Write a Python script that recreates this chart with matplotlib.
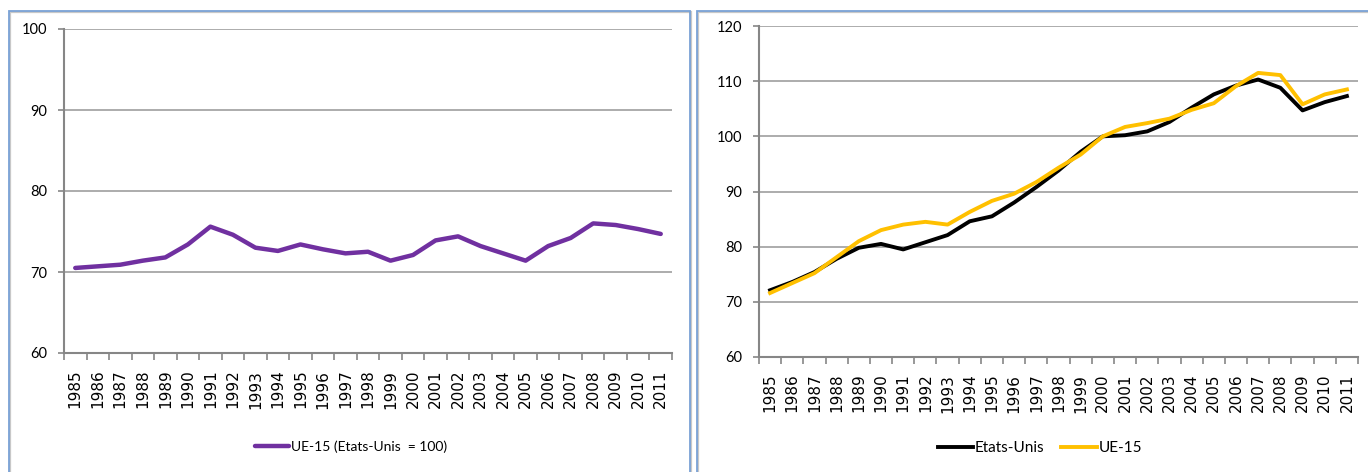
import numpy as np
import matplotlib
matplotlib.use("Agg")
from matplotlib import pyplot as plt
from matplotlib.patches import Rectangle

years = np.arange(1985, 2012)
year_labels = [str(y) for y in years]

# UE-15 relative to Etats-Unis (= 100)
ue15_rel = [70.5, 70.7, 70.9, 71.4, 71.8, 73.4, 75.6, 74.6, 73.0, 72.6,
            73.4, 72.8, 72.3, 72.5, 71.4, 72.1, 73.9, 74.4, 73.2, 72.3,
            71.4, 73.2, 74.2, 76.0, 75.8, 75.3, 74.7]

# index 2000 = 100
etats_unis = [72.1, 73.6, 75.4, 77.8, 79.8, 80.5, 79.5, 80.8, 82.1, 84.6,
              85.5, 88.0, 90.8, 93.8, 97.2, 100.0, 100.2, 100.9, 102.6, 105.2,
              107.6, 109.2, 110.3, 108.8, 104.7, 106.2, 107.3]
ue15 = [71.6, 73.4, 75.2, 78.1, 81.0, 83.0, 84.0, 84.5, 84.0, 86.3,
        88.3, 89.6, 91.7, 94.3, 96.7, 100.0, 101.7, 102.4, 103.2, 104.8,
        106.0, 109.1, 111.5, 111.1, 105.8, 107.6, 108.5]

W, H = 1368, 472
narrow = ['Lato', 'DejaVu Sans']
GRID = '#a6a6a6'
AXIS = '#868686'

fig = plt.figure(figsize=(W / 100, H / 100), dpi=100)


def px_axes(left, right, top, bottom):
    return fig.add_axes([left / W, 1 - bottom / H, (right - left) / W, (bottom - top) / H])


def frame(left, right, top, bottom):
    # panel border, drawn in figure pixels
    shadow = Rectangle((left / W + 1 / W, 1 - bottom / H - 1 / H), (right - left) / W, (bottom - top) / H,
                       transform=fig.transFigure, fill=False, edgecolor='#c8c8c8', lw=1.6)
    box = Rectangle((left / W, 1 - bottom / H), (right - left) / W, (bottom - top) / H,
                    transform=fig.transFigure, fill=False, edgecolor='#7aa2d6', lw=1.3)
    fig.patches.extend([shadow, box])


def style(ax, ylim, yticks):
    ax.set_xlim(-0.5, len(years) - 0.5)
    ax.set_ylim(*ylim)
    ax.set_yticks(yticks)
    ax.set_yticklabels([str(t) for t in yticks], family=narrow, fontsize=10.5)
    ax.set_xticks(np.arange(-0.5, len(years)), labels=[''] * (len(years) + 1))
    ax.set_xticks(np.arange(len(years)), labels=year_labels, minor=True,
                  family='DejaVu Sans', fontsize=11)
    ax.tick_params(axis='x', which='minor', length=0, pad=12, labelrotation=90)
    ax.tick_params(axis='x', which='major', length=5, width=1.2, color=AXIS, direction='out')
    ax.tick_params(axis='y', length=4, width=1.2, color=AXIS, pad=8)
    ax.grid(axis='y', color=GRID, lw=1.3)
    ax.set_axisbelow(True)
    for s in ('top', 'right'):
        ax.spines[s].set_visible(False)
    for s in ('left', 'bottom'):
        ax.spines[s].set_color(AXIS)
        ax.spines[s].set_linewidth(1.5)


frame(9, 690, 11, 490)
frame(697, 1390, 11, 490)

x = np.arange(len(years))

ax1 = px_axes(64, 672, 29, 353)
ax1.plot(x, ue15_rel, color='#7030a0', lw=3.2, solid_capstyle='round', label='UE-15 (Etats-Unis  = 100)')
style(ax1, (60, 100), [60, 70, 80, 90, 100])
ax1.legend(loc='center', bbox_to_anchor=(351 / W, 1 - 447 / H), bbox_transform=fig.transFigure,
           frameon=False, prop={'family': narrow, 'size': 10}, handlelength=2.4, handletextpad=0.15)

ax2 = px_axes(759, 1358, 26, 357)
ax2.plot(x, etats_unis, color='black', lw=2.8, label='Etats-Unis')
ax2.plot(x, ue15, color='#ffc000', lw=2.8, label='UE-15')
style(ax2, (60, 120), [60, 70, 80, 90, 100, 110, 120])
ax2.legend(loc='center', bbox_to_anchor=(1040 / W, 1 - 448 / H), bbox_transform=fig.transFigure,
           frameon=False, ncol=2, prop={'family': narrow, 'size': 11}, handlelength=2.3,
           handletextpad=0.15, columnspacing=1.1)

fig.savefig('out.png', dpi=100)
